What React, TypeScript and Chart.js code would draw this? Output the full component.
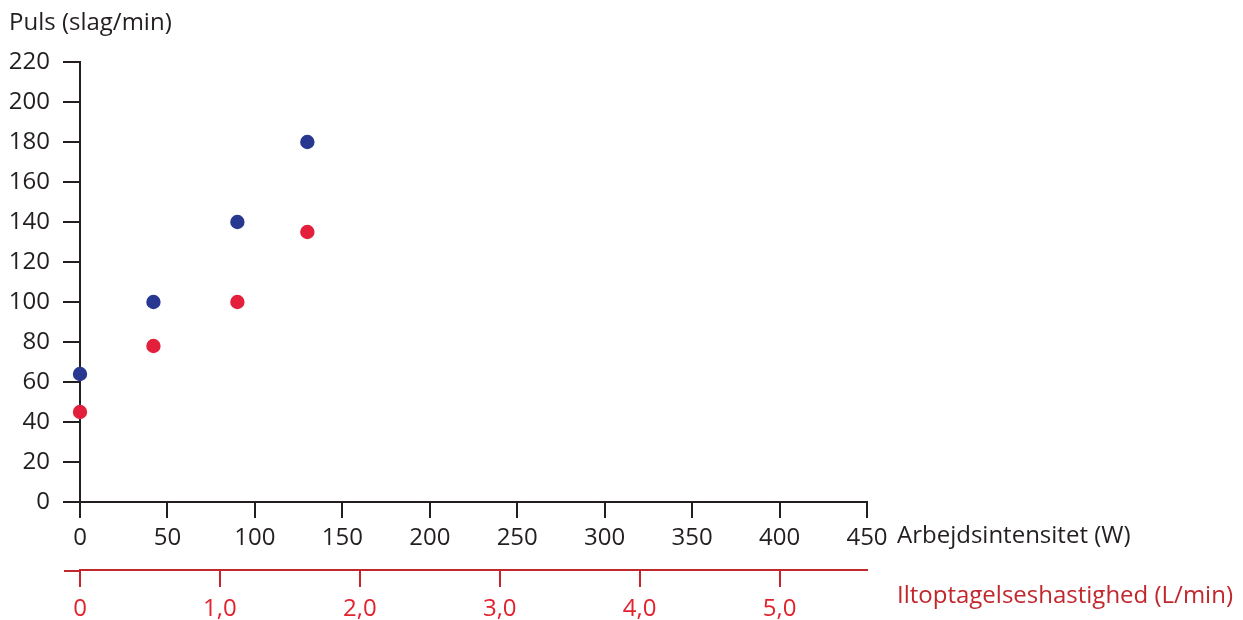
import React, { useEffect, useRef } from "react";
import { Chart, registerables } from "chart.js";

Chart.register(...registerables);

const wattValues = [0, 42, 90, 130];
const pulseAtWatt = [64, 100, 140, 180];
const pulseAtOxygen = [45, 78, 100, 135];
const yTicks = [0, 20, 40, 60, 80, 100, 120, 140, 160, 180, 200, 220];
const wattTicks = [0, 50, 100, 150, 200, 250, 300, 350, 400, 450];
const oxygenTicks = [0, 1, 2, 3, 4, 5];
const wattPerLitre = 80;

const yTitle = "Puls (slag/min)";
const xTitle = "Arbejdsintensitet (W)";
const x2Title = "Iltoptagelseshastighed (L/min)";

const FONT = "'Open Sans', 'Noto Sans', sans-serif";
const FS = 24;
const BLACK = "#231f20";
const BLUE = "#283891";
const RED = "#e41f3b";
const DARKRED = "#c1272d";
const LABELRED = "#e3222e";

const titlesPlugin = {
  id: "titles",
  afterDraw(chart: any) {
    const ctx = chart.ctx;
    const area = chart.chartArea;
    const x2 = chart.scales.x2;
    ctx.save();
    ctx.strokeStyle = DARKRED;
    ctx.lineWidth = 2;
    ctx.beginPath();
    ctx.moveTo(area.left - 16, x2.top + 1);
    ctx.lineTo(area.left, x2.top + 1);
    ctx.stroke();

    ctx.font = `${FS}px ${FONT}`;
    ctx.textBaseline = "middle";
    ctx.textAlign = "left";
    ctx.fillStyle = BLACK;
    ctx.fillText(yTitle, 9, 23);
    ctx.fillText(xTitle, area.right + 30, area.bottom + 34);
    ctx.fillStyle = DARKRED;
    ctx.fillText(x2Title, area.right + 30, x2.top + 26);
    ctx.restore();
  },
};

export default function App() {
  const ref = useRef<HTMLCanvasElement | null>(null);
  useEffect(() => {
    if (!ref.current) return;
    const chart = new Chart(ref.current, {
      type: "scatter",
      data: {
        datasets: [
          {
            label: "Puls vs W",
            data: wattValues.map((x, i) => ({ x, y: pulseAtWatt[i] })),
            backgroundColor: BLUE,
            borderWidth: 0,
            pointRadius: 7.2,
            clip: false,
            xAxisID: "x",
          },
          {
            label: "Puls vs ilt",
            data: wattValues.map((x, i) => ({ x: x / wattPerLitre, y: pulseAtOxygen[i] })),
            backgroundColor: RED,
            borderWidth: 0,
            pointRadius: 7.2,
            clip: false,
            xAxisID: "x2",
          },
        ],
      },
      options: {
        animation: false,
        responsive: false,
        maintainAspectRatio: false,
        layout: { padding: { top: 62, right: 376, left: 0, bottom: 0 } },
        plugins: { legend: { display: false }, tooltip: { enabled: false } },
        scales: {
          y: {
            min: 0,
            max: 220,
            afterFit: (s: any) => { s.width = 80; },
            afterBuildTicks: (s: any) => { s.ticks = yTicks.map((v) => ({ value: v })); },
            grid: { drawOnChartArea: false, tickLength: 17, color: BLACK, lineWidth: 2 },
            border: { color: BLACK, width: 2 },
            ticks: { color: BLACK, padding: 13, font: { family: FONT, size: FS } },
          },
          x: {
            type: "linear",
            position: "bottom",
            weight: 0,
            min: 0,
            max: 450,
            afterFit: (s: any) => { s.height = 68; },
            afterBuildTicks: (s: any) => { s.ticks = wattTicks.map((v) => ({ value: v })); },
            grid: { drawOnChartArea: false, tickLength: 16, color: BLACK, lineWidth: 2 },
            border: { color: BLACK, width: 2 },
            ticks: { color: BLACK, padding: 6, maxRotation: 0, font: { family: FONT, size: FS } },
          },
          x2: {
            type: "linear",
            position: "bottom",
            weight: 1,
            min: 0,
            max: 450 / wattPerLitre,
            afterFit: (s: any) => { s.height = 50; },
            afterBuildTicks: (s: any) => { s.ticks = oxygenTicks.map((v) => ({ value: v })); },
            grid: { drawOnChartArea: false, tickLength: 17, color: DARKRED, lineWidth: 2 },
            border: { color: DARKRED, width: 2 },
            ticks: {
              color: LABELRED,
              padding: 8,
              maxRotation: 0,
              font: { family: FONT, size: FS },
              callback: (v: any) => (v === 0 ? "0" : Number(v).toFixed(1).replace(".", ",")),
            },
          },
        },
      },
      plugins: [titlesPlugin],
    });
    return () => chart.destroy();
  }, []);
  return (
    <div style={{ position: "fixed", left: 0, top: 0, width: 1243, height: 620, background: "#fff" }}>
      <canvas ref={ref} width={1243} height={620} style={{ display: "block" }} />
    </div>
  );
}
